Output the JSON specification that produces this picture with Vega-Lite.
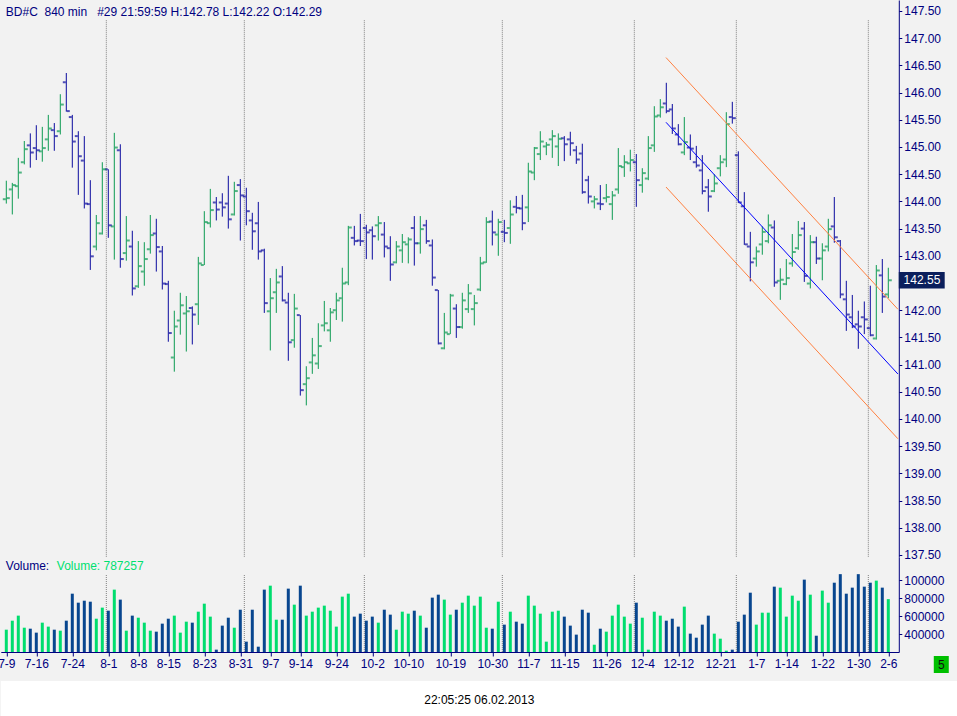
{
  "$schema": "https://vega.github.io/schema/vega-lite/v6.json",
  "padding": {"left": -3.2, "right": 3.2, "top": 0, "bottom": 0},
  "background": "#F2F2F2",
  "spacing": 8,
  "datasets": {
    "bars": [
      {"i":0,"o":144.04,"h":144.38,"l":143.96,"c":144.06,"v":448000},
      {"i":1,"o":144.22,"h":144.34,"l":143.76,"c":144.30,"v":548000},
      {"i":2,"o":144.28,"h":144.80,"l":144.05,"c":144.53,"v":604000},
      {"i":3,"o":144.72,"h":145.11,"l":144.68,"c":144.96,"v":470000},
      {"i":4,"o":145.03,"h":145.25,"l":144.62,"c":144.90,"v":459000},
      {"i":5,"o":144.98,"h":145.40,"l":144.76,"c":144.94,"v":415000},
      {"i":6,"o":144.92,"h":145.37,"l":144.73,"c":144.98,"v":526000},
      {"i":7,"o":145.14,"h":145.59,"l":144.93,"c":145.34,"v":482000},
      {"i":8,"o":145.31,"h":145.44,"l":144.93,"c":145.20,"v":448000},
      {"i":9,"o":145.29,"h":145.97,"l":145.23,"c":145.78,"v":437000},
      {"i":10,"o":146.19,"h":146.36,"l":145.65,"c":145.66,"v":548000},
      {"i":11,"o":145.55,"h":145.59,"l":144.62,"c":145.10,"v":848000},
      {"i":12,"o":145.20,"h":145.29,"l":144.12,"c":144.83,"v":748000},
      {"i":13,"o":144.75,"h":145.20,"l":143.87,"c":143.96,"v":770000},
      {"i":14,"o":143.95,"h":144.39,"l":142.74,"c":142.99,"v":759000},
      {"i":15,"o":143.17,"h":143.75,"l":143.10,"c":143.60,"v":570000},
      {"i":16,"o":143.41,"h":144.72,"l":143.39,"c":144.59,"v":693000},
      {"i":17,"o":144.59,"h":144.59,"l":143.33,"c":143.56,"v":659000},
      {"i":18,"o":143.54,"h":145.26,"l":142.93,"c":144.99,"v":893000},
      {"i":19,"o":144.94,"h":145.05,"l":142.78,"c":142.94,"v":782000},
      {"i":20,"o":143.05,"h":143.73,"l":142.91,"c":143.28,"v":437000},
      {"i":21,"o":143.17,"h":143.46,"l":142.27,"c":142.40,"v":604000},
      {"i":22,"o":142.44,"h":143.27,"l":142.41,"c":142.81,"v":581000},
      {"i":23,"o":142.71,"h":143.25,"l":142.45,"c":142.94,"v":526000},
      {"i":24,"o":143.12,"h":143.75,"l":143.04,"c":143.38,"v":437000},
      {"i":25,"o":143.41,"h":143.68,"l":142.71,"c":143.16,"v":426000},
      {"i":26,"o":143.08,"h":143.18,"l":142.38,"c":142.49,"v":515000},
      {"i":27,"o":142.48,"h":142.54,"l":141.42,"c":141.58,"v":570000},
      {"i":28,"o":141.13,"h":141.99,"l":140.87,"c":141.70,"v":604000},
      {"i":29,"o":141.81,"h":142.32,"l":141.55,"c":142.09,"v":415000},
      {"i":30,"o":141.94,"h":142.26,"l":141.24,"c":141.98,"v":537000},
      {"i":31,"o":142.04,"h":142.07,"l":141.37,"c":141.92,"v":526000},
      {"i":32,"o":142.11,"h":142.98,"l":141.73,"c":142.86,"v":648000},
      {"i":33,"o":142.83,"h":143.82,"l":142.83,"c":143.62,"v":737000},
      {"i":34,"o":143.60,"h":144.23,"l":143.52,"c":143.84,"v":593000},
      {"i":35,"o":143.98,"h":144.08,"l":143.65,"c":143.85,"v":226000},
      {"i":36,"o":143.98,"h":144.15,"l":143.72,"c":143.89,"v":493000},
      {"i":37,"o":143.96,"h":144.47,"l":143.50,"c":143.67,"v":581000},
      {"i":38,"o":143.76,"h":144.36,"l":143.74,"c":144.19,"v":470000},
      {"i":39,"o":144.30,"h":144.41,"l":143.28,"c":144.11,"v":670000},
      {"i":40,"o":144.09,"h":144.25,"l":143.56,"c":143.82,"v":315000},
      {"i":41,"o":143.65,"h":143.79,"l":143.11,"c":143.45,"v":670000},
      {"i":42,"o":143.60,"h":143.99,"l":142.93,"c":143.08,"v":259000},
      {"i":43,"o":143.10,"h":143.13,"l":141.95,"c":142.13,"v":893000},
      {"i":44,"o":141.98,"h":142.59,"l":141.26,"c":142.22,"v":937000},
      {"i":45,"o":142.33,"h":142.76,"l":141.95,"c":142.51,"v":559000},
      {"i":46,"o":142.62,"h":142.81,"l":142.16,"c":142.18,"v":559000},
      {"i":47,"o":142.14,"h":142.32,"l":141.07,"c":141.41,"v":904000},
      {"i":48,"o":141.45,"h":142.30,"l":141.31,"c":142.03,"v":726000},
      {"i":49,"o":141.91,"h":141.91,"l":140.43,"c":140.53,"v":937000},
      {"i":50,"o":140.64,"h":140.97,"l":140.25,"c":140.75,"v":604000},
      {"i":51,"o":141.04,"h":141.49,"l":140.83,"c":141.17,"v":648000},
      {"i":52,"o":141.02,"h":141.76,"l":140.92,"c":141.34,"v":693000},
      {"i":53,"o":141.72,"h":142.17,"l":141.61,"c":141.76,"v":715000},
      {"i":54,"o":141.63,"h":142.04,"l":141.42,"c":141.96,"v":659000},
      {"i":55,"o":142.00,"h":142.32,"l":141.82,"c":142.18,"v":482000},
      {"i":56,"o":142.22,"h":142.78,"l":141.79,"c":142.49,"v":815000},
      {"i":57,"o":142.51,"h":143.55,"l":142.46,"c":143.52,"v":848000},
      {"i":58,"o":143.33,"h":143.55,"l":143.19,"c":143.27,"v":593000},
      {"i":59,"o":143.28,"h":143.77,"l":143.18,"c":143.27,"v":626000},
      {"i":60,"o":143.51,"h":143.57,"l":142.94,"c":143.43,"v":548000},
      {"i":61,"o":143.47,"h":143.54,"l":142.93,"c":143.36,"v":593000},
      {"i":62,"o":143.56,"h":143.73,"l":143.28,"c":143.60,"v":526000},
      {"i":63,"o":143.39,"h":143.62,"l":142.97,"c":143.17,"v":670000},
      {"i":64,"o":143.14,"h":143.36,"l":142.54,"c":142.84,"v":615000},
      {"i":65,"o":142.88,"h":143.27,"l":142.86,"c":143.17,"v":448000},
      {"i":66,"o":143.10,"h":143.40,"l":142.87,"c":143.25,"v":648000},
      {"i":67,"o":143.21,"h":143.34,"l":142.86,"c":143.30,"v":626000},
      {"i":68,"o":143.51,"h":143.73,"l":142.82,"c":143.23,"v":659000},
      {"i":69,"o":143.23,"h":143.73,"l":143.04,"c":143.49,"v":604000},
      {"i":70,"o":143.56,"h":143.66,"l":143.22,"c":143.27,"v":470000},
      {"i":71,"o":143.19,"h":143.30,"l":142.45,"c":142.60,"v":804000},
      {"i":72,"o":142.37,"h":142.37,"l":141.37,"c":141.39,"v":837000},
      {"i":73,"o":141.30,"h":141.95,"l":141.28,"c":141.59,"v":782000},
      {"i":74,"o":141.56,"h":142.30,"l":141.56,"c":142.27,"v":615000},
      {"i":75,"o":142.03,"h":142.11,"l":141.49,"c":141.69,"v":670000},
      {"i":76,"o":141.69,"h":142.32,"l":141.66,"c":142.18,"v":748000},
      {"i":77,"o":142.02,"h":142.48,"l":141.95,"c":142.31,"v":826000},
      {"i":78,"o":142.02,"h":142.28,"l":141.72,"c":142.13,"v":715000},
      {"i":79,"o":142.38,"h":142.98,"l":142.35,"c":142.86,"v":815000},
      {"i":80,"o":142.88,"h":143.71,"l":142.87,"c":143.62,"v":470000},
      {"i":81,"o":143.63,"h":143.83,"l":143.19,"c":143.43,"v":459000},
      {"i":82,"o":143.39,"h":143.68,"l":143.00,"c":143.62,"v":759000},
      {"i":83,"o":143.44,"h":143.66,"l":143.25,"c":143.42,"v":504000},
      {"i":84,"o":143.51,"h":144.02,"l":143.22,"c":143.76,"v":648000},
      {"i":85,"o":143.90,"h":144.10,"l":143.78,"c":143.88,"v":537000},
      {"i":86,"o":143.87,"h":144.12,"l":143.47,"c":143.60,"v":515000},
      {"i":87,"o":143.89,"h":144.71,"l":143.62,"c":144.55,"v":826000},
      {"i":88,"o":144.53,"h":145.00,"l":144.39,"c":144.98,"v":715000},
      {"i":89,"o":144.87,"h":145.29,"l":144.76,"c":145.10,"v":626000},
      {"i":90,"o":145.01,"h":145.09,"l":144.85,"c":145.04,"v":315000},
      {"i":91,"o":145.14,"h":145.31,"l":144.80,"c":145.20,"v":648000},
      {"i":92,"o":145.01,"h":145.25,"l":144.65,"c":145.15,"v":659000},
      {"i":93,"o":145.16,"h":145.20,"l":144.74,"c":145.05,"v":593000},
      {"i":94,"o":145.14,"h":145.28,"l":144.84,"c":145.07,"v":493000},
      {"i":95,"o":144.94,"h":145.02,"l":144.69,"c":144.77,"v":393000},
      {"i":96,"o":144.88,"h":145.06,"l":144.14,"c":144.17,"v":670000},
      {"i":97,"o":144.39,"h":144.47,"l":143.96,"c":144.09,"v":637000},
      {"i":98,"o":144.00,"h":144.10,"l":143.87,"c":144.04,"v":281000},
      {"i":99,"o":143.96,"h":144.30,"l":143.84,"c":143.95,"v":459000},
      {"i":100,"o":144.06,"h":144.32,"l":143.98,"c":144.08,"v":426000},
      {"i":101,"o":143.95,"h":144.19,"l":143.66,"c":144.11,"v":604000},
      {"i":102,"o":144.22,"h":144.98,"l":144.14,"c":144.65,"v":726000},
      {"i":103,"o":144.63,"h":144.85,"l":144.45,"c":144.72,"v":593000},
      {"i":104,"o":144.70,"h":144.95,"l":144.55,"c":144.76,"v":515000},
      {"i":105,"o":144.72,"h":144.87,"l":143.90,"c":144.39,"v":748000},
      {"i":106,"o":144.30,"h":144.61,"l":144.16,"c":144.52,"v":581000},
      {"i":107,"o":144.42,"h":145.20,"l":144.39,"c":144.98,"v":226000},
      {"i":108,"o":145.03,"h":145.75,"l":144.91,"c":145.56,"v":648000},
      {"i":109,"o":145.58,"h":145.88,"l":145.54,"c":145.73,"v":604000},
      {"i":110,"o":145.80,"h":146.18,"l":145.62,"c":145.66,"v":548000},
      {"i":111,"o":145.69,"h":145.79,"l":145.24,"c":145.34,"v":570000},
      {"i":112,"o":145.23,"h":145.42,"l":145.03,"c":145.05,"v":482000},
      {"i":113,"o":144.90,"h":145.55,"l":144.85,"c":145.09,"v":704000},
      {"i":114,"o":144.99,"h":145.23,"l":144.76,"c":144.97,"v":404000},
      {"i":115,"o":144.72,"h":145.02,"l":144.62,"c":144.66,"v":359000},
      {"i":116,"o":144.57,"h":144.85,"l":144.13,"c":144.19,"v":504000},
      {"i":117,"o":144.26,"h":144.41,"l":143.81,"c":144.09,"v":604000},
      {"i":118,"o":144.19,"h":144.50,"l":144.17,"c":144.33,"v":404000},
      {"i":119,"o":144.61,"h":144.85,"l":144.46,"c":144.72,"v":348000},
      {"i":120,"o":144.77,"h":145.64,"l":144.63,"c":145.42,"v":215000},
      {"i":121,"o":145.55,"h":145.83,"l":145.43,"c":145.53,"v":226000},
      {"i":122,"o":144.85,"h":144.92,"l":143.97,"c":143.98,"v":537000},
      {"i":123,"o":143.91,"h":144.17,"l":143.20,"c":143.21,"v":615000},
      {"i":124,"o":143.17,"h":143.44,"l":142.53,"c":142.88,"v":859000},
      {"i":125,"o":142.95,"h":143.17,"l":142.80,"c":143.08,"v":504000},
      {"i":126,"o":143.21,"h":143.54,"l":143.02,"c":143.44,"v":637000},
      {"i":127,"o":143.27,"h":143.76,"l":143.23,"c":143.56,"v":637000},
      {"i":128,"o":143.52,"h":143.65,"l":142.43,"c":142.51,"v":926000},
      {"i":129,"o":142.54,"h":142.77,"l":142.19,"c":142.56,"v":915000},
      {"i":130,"o":142.48,"h":142.94,"l":142.46,"c":142.59,"v":593000},
      {"i":131,"o":142.86,"h":143.40,"l":142.80,"c":143.07,"v":826000},
      {"i":132,"o":143.14,"h":143.64,"l":143.11,"c":143.38,"v":770000},
      {"i":133,"o":143.50,"h":143.62,"l":142.52,"c":142.63,"v":1004000},
      {"i":134,"o":142.49,"h":143.38,"l":142.40,"c":143.25,"v":837000},
      {"i":135,"o":143.25,"h":143.35,"l":142.85,"c":142.95,"v":381000},
      {"i":136,"o":142.95,"h":143.23,"l":142.55,"c":143.10,"v":882000},
      {"i":137,"o":143.17,"h":143.68,"l":143.08,"c":143.49,"v":748000},
      {"i":138,"o":143.54,"h":144.08,"l":143.24,"c":143.34,"v":970000},
      {"i":139,"o":143.27,"h":143.29,"l":142.22,"c":142.29,"v":1065000},
      {"i":140,"o":142.20,"h":142.54,"l":141.62,"c":141.92,"v":848000},
      {"i":141,"o":141.87,"h":142.28,"l":141.67,"c":141.70,"v":915000},
      {"i":142,"o":141.74,"h":141.99,"l":141.29,"c":141.70,"v":1065000},
      {"i":143,"o":141.87,"h":142.16,"l":141.56,"c":141.83,"v":926000},
      {"i":144,"o":141.67,"h":142.45,"l":141.52,"c":141.54,"v":970000},
      {"i":145,"o":141.48,"h":142.83,"l":141.46,"c":142.73,"v":993000},
      {"i":146,"o":142.64,"h":142.94,"l":141.95,"c":142.25,"v":915000},
      {"i":147,"o":142.29,"h":142.78,"l":142.22,"c":142.55,"v":787257}
    ],
    "months": [
      {"i":16.67},{"i":39.67},{"i":59.67},{"i":82.67},{"i":104.67},{"i":121.67},{"i":143.67}
    ],
    "chan": [
      {"i":109.95,"p":145.454,"g":"mid"},{"i":148.6,"p":140.827,"g":"mid"},
      {"i":109.95,"p":146.644,"g":"up"},{"i":148.6,"p":142.017,"g":"up"},
      {"i":109.95,"p":144.264,"g":"lo"},{"i":148.6,"p":139.637,"g":"lo"}
    ]
  },
  "vconcat": [
    {
      "bounds": "flush",
      "spacing": 0,
      "vconcat": [
        {
          "width": 898,
          "height": 557,
          "layer": [
            {
              "data": {"name": "bars"},
              "mark": {"type": "rule", "strokeWidth": 1},
              "encoding": {
                "x": {"field": "i", "type": "quantitative", "scale": {"domain": [-0.9167, 148.75], "nice": false, "zero": false, "padding": 0}, "axis": null},
                "y": {
                  "field": "h", "type": "quantitative", "title": null,
                  "scale": {"domain": [137.463, 147.702], "nice": false, "zero": false},
                  "axis": {
                    "orient": "right", "title": null, "format": ".2f", "tickCount": 100,
                    "values": [137.5,138,138.5,139,139.5,140,140.5,141,141.5,142,143,143.5,144,144.5,145,145.5,146,146.5,147,147.5],
                    "tickSize": 3, "labelPadding": 2, "labelOverlap": false, "labelBound": false
                  }
                },
                "y2": {"field": "l"},
                "color": {"condition": {"test": "datum.c >= datum.o", "value": "#0C9A52"}, "value": "#0A0A9E"}
              }
            },
            {
              "data": {"name": "months"},
              "mark": {"type": "rule", "stroke": "#808080", "strokeDash": [1, 1], "strokeWidth": 1},
              "encoding": {
                "x": {"field": "i", "type": "quantitative", "axis": null},
                "y": {"datum": 147.33, "type": "quantitative", "title": null},
                "y2": {"datum": 137.463}
              }
            },
            {
              "data": {"name": "bars"},
              "mark": {"type": "tick", "orient": "horizontal", "size": 3, "thickness": 2, "xOffset": -2},
              "encoding": {
                "x": {"field": "i", "type": "quantitative", "axis": null},
                "y": {"field": "o", "type": "quantitative", "title": null},
                "color": {"condition": {"test": "datum.c >= datum.o", "value": "#0C9A52"}, "value": "#0A0A9E"}
              }
            },
            {
              "data": {"name": "bars"},
              "mark": {"type": "tick", "orient": "horizontal", "size": 3, "thickness": 2, "xOffset": 2},
              "encoding": {
                "x": {"field": "i", "type": "quantitative", "axis": null},
                "y": {"field": "c", "type": "quantitative", "title": null},
                "color": {"condition": {"test": "datum.c >= datum.o", "value": "#0C9A52"}, "value": "#0A0A9E"}
              }
            },
            {
              "data": {"name": "chan"},
              "mark": {"type": "line", "strokeWidth": 1},
              "encoding": {
                "x": {"field": "i", "type": "quantitative", "axis": null},
                "y": {"field": "p", "type": "quantitative", "title": null},
                "detail": {"field": "g"},
                "color": {"condition": {"test": "datum.g == 'mid'", "value": "#0000FF"}, "value": "#FF8040"}
              }
            },
            {
              "data": {"values": [{"t": "BD#C\u00a0\u00a0840 min\u00a0\u00a0\u00a0#29 21:59:59 H:142.78 L:142.22 O:142.29"}]},
              "mark": {"type": "text", "align": "left", "baseline": "middle", "fontSize": 12, "color": "#000080"},
              "encoding": {
                "x": {"datum": -0.083, "type": "quantitative", "axis": null},
                "y": {"datum": 147.48, "type": "quantitative", "title": null},
                "text": {"field": "t"}
              }
            },
            {
              "data": {"values": [{"p": 142.55}]},
              "mark": {"type": "rect", "color": "#0B1F5C"},
              "encoding": {
                "x": {"datum": 148.75, "type": "quantitative", "axis": null},
                "x2": {"datum": 156.4},
                "y": {"datum": 142.40, "type": "quantitative", "title": null},
                "y2": {"datum": 142.70}
              }
            },
            {
              "data": {"values": [{"p": 142.55}]},
              "mark": {"type": "text", "align": "left", "baseline": "middle", "fontSize": 12, "color": "#FFFFFF"},
              "encoding": {
                "x": {"datum": 149.55, "type": "quantitative", "axis": null},
                "y": {"field": "p", "type": "quantitative", "title": null},
                "text": {"field": "p", "format": ".2f"}
              }
            }
          ]
        },
        {
          "width": 898,
          "height": 95,
          "layer": [
            {
              "data": {"name": "bars"},
              "mark": {"type": "bar", "width": 3},
              "encoding": {
                "x": {
                  "field": "i", "type": "quantitative", "title": null,
                  "scale": {"domain": [-0.9167, 148.75], "nice": false, "zero": false, "padding": 0},
                  "axis": {
                    "orient": "bottom", "title": null, "tickSize": 4, "labelPadding": 2, "tickCount": 100,
                    "labelOverlap": false, "labelBound": false, "labelFlush": false,
                    "values": [0,5,11,17,22,27,33,39,44,49,55,61,67,74,81,87,93,100,106,112,119,125,130,136,142,147],
                    "labelExpr": "['7-9','7-16','7-24','8-1','8-8','8-15','8-23','8-31','9-7','9-14','9-24','10-2','10-10','10-19','10-30','11-7','11-15','11-26','12-4','12-12','12-21','1-7','1-14','1-22','1-30','2-6'][indexof([0,5,11,17,22,27,33,39,44,49,55,61,67,74,81,87,93,100,106,112,119,125,130,136,142,147], datum.value)]"
                  }
                },
                "y": {
                  "field": "v", "type": "quantitative", "title": null,
                  "scale": {"domain": [200000, 1255556], "nice": false, "zero": false},
                  "axis": {
                    "orient": "right", "title": null, "format": "d", "tickCount": 100,
                    "values": [400000, 600000, 800000, 1000000],
                    "labelExpr": "slice(datum.label, 0, 6)",
                    "tickSize": 3, "labelPadding": 2, "labelOverlap": false, "labelBound": false
                  }
                },
                "y2": {"datum": 200000},
                "color": {"condition": {"test": "datum.c >= datum.o", "value": "#00DD6E"}, "value": "#08468F"}
              }
            },
            {
              "data": {"name": "months"},
              "mark": {"type": "rule", "stroke": "#808080", "strokeDash": [1, 1], "strokeWidth": 1},
              "encoding": {
                "x": {"field": "i", "type": "quantitative", "title": null},
                "y": {"datum": 1055556, "type": "quantitative", "title": null},
                "y2": {"datum": 200000}
              }
            },
            {
              "data": {"values": [{"t": "Volume:"}]},
              "mark": {"type": "text", "align": "left", "baseline": "middle", "fontSize": 12, "color": "#000080"},
              "encoding": {
                "x": {"datum": -0.083, "type": "quantitative", "title": null},
                "y": {"datum": 1155556, "type": "quantitative", "title": null},
                "text": {"field": "t"}
              }
            },
            {
              "data": {"values": [{"t": "Volume: 787257"}]},
              "mark": {"type": "text", "align": "left", "baseline": "middle", "fontSize": 12, "color": "#00E070"},
              "encoding": {
                "x": {"datum": 8.42, "type": "quantitative", "title": null},
                "y": {"datum": 1155556, "type": "quantitative", "title": null},
                "text": {"field": "t"}
              }
            },
            {
              "data": {"values": [{"t": "5"}]},
              "mark": {"type": "rect", "color": "#00C000"},
              "encoding": {
                "x": {"datum": 154.58, "type": "quantitative", "title": null},
                "x2": {"datum": 157.08},
                "y": {"datum": 155556, "type": "quantitative", "title": null},
                "y2": {"datum": -33333}
              }
            },
            {
              "data": {"values": [{"t": "5"}]},
              "mark": {"type": "text", "align": "center", "baseline": "middle", "fontSize": 12, "color": "#101010"},
              "encoding": {
                "x": {"datum": 155.83, "type": "quantitative", "title": null},
                "y": {"datum": 61111, "type": "quantitative", "title": null},
                "text": {"field": "t"}
              }
            }
          ]
        }
      ]
    },
    {
      "width": 957,
      "height": 36,
      "view": {"fill": "#FFFFFF", "stroke": null},
      "data": {"values": [{"t": "22:05:25 06.02.2013"}]},
      "mark": {"type": "text", "align": "center", "baseline": "middle", "fontSize": 12, "color": "#000000"},
      "encoding": {
        "x": {"datum": 0.5, "type": "quantitative", "scale": {"domain": [0, 1]}, "axis": null},
        "y": {"datum": 0.47, "type": "quantitative", "scale": {"domain": [0, 1]}, "axis": null},
        "text": {"field": "t"}
      }
    }
  ],
  "config": {
    "font": "Liberation Sans",
    "view": {"stroke": null},
    "axis": {
      "labelFont": "Liberation Sans",
      "labelFontSize": 12,
      "labelColor": "#000080",
      "domainColor": "#000080",
      "tickColor": "#000080",
      "grid": false,
      "labelFlush": false,
      "labelOverlap": false,
      "labelBound": false
    }
  }
}
